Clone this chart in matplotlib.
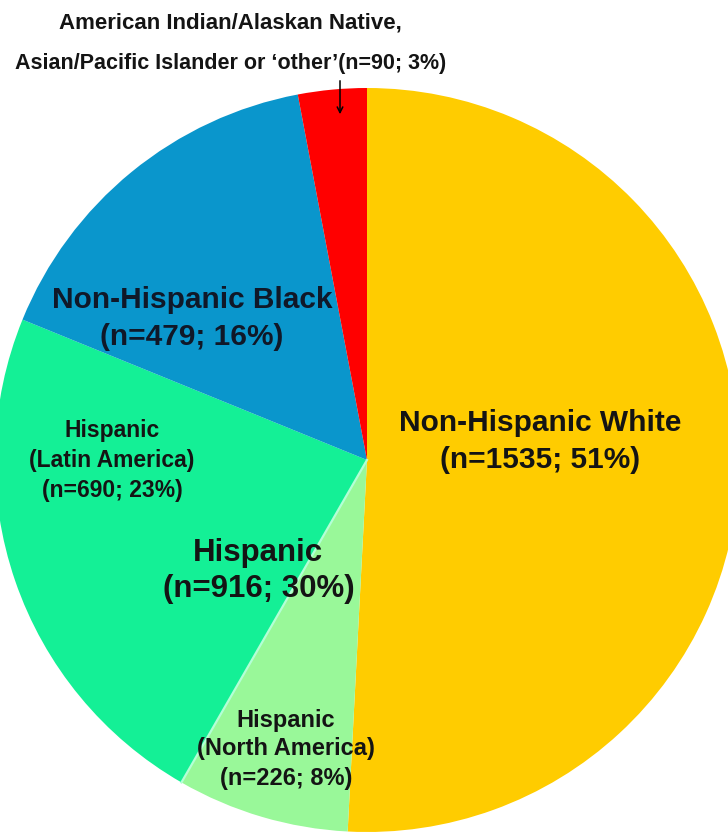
import numpy as np
import matplotlib
matplotlib.use("Agg")
from matplotlib import pyplot as plt

# slice data (clockwise from 12 o'clock)
groups = ["Non-Hispanic White", "Hispanic (North America)", "Hispanic (Latin America)",
          "Non-Hispanic Black", "Other"]
counts = [1535, 226, 690, 479, 90]
colors = ["#FFCC00", "#99F899", "#14F096", "#0A96CC", "#FF0000"]

FONT = ["Liberation Sans", "DejaVu Sans"]

fig = plt.figure(figsize=(7.28, 8.33), dpi=100)
ax = fig.add_axes([0, 0, 1, 1])

# y axis is inverted below, so counterclock=True draws clockwise on screen
cx, cy, r = 367, 460, 372
wedges, _ = ax.pie(counts, colors=colors, startangle=-90, counterclock=True,
                   center=(cx, cy), radius=r,
                   wedgeprops=dict(linewidth=0, antialiased=True))
ax.set_xlim(0, 728)
ax.set_ylim(833, 0)
ax.set_aspect("equal")
ax.axis("off")

# thin light line between the two hispanic slices
t = np.deg2rad(wedges[1].theta2)
ax.plot([cx, cx + r * np.cos(t)], [cy, cy + r * np.sin(t)], color="#B4FFD6", lw=1.6)

txt = "#141414"
ax.text(230, 23, "American Indian/Alaskan Native,", ha="center", va="center",
        fontsize=16, fontweight="bold", family=FONT, color=txt)
ax.text(231, 63, "Asian/Pacific Islander or \u2018other\u2019(n=90; 3%)", ha="center", va="center",
        fontsize=15.5, fontweight="bold", family=FONT, color=txt)
ax.annotate("", xy=(340, 117), xytext=(340, 78),
            arrowprops=dict(arrowstyle="->", color="black", lw=1.1))

ax.text(192, 300, "Non-Hispanic Black", ha="center", va="center",
        fontsize=21.5, fontweight="bold", family=FONT, color="#101828")
ax.text(192, 337, "(n=479; 16%)", ha="center", va="center",
        fontsize=21.5, fontweight="bold", family=FONT, color="#101828")

ax.text(540, 423, "Non-Hispanic White", ha="center", va="center",
        fontsize=21.5, fontweight="bold", family=FONT, color=txt)
ax.text(540, 460, "(n=1535; 51%)", ha="center", va="center",
        fontsize=21.5, fontweight="bold", family=FONT, color=txt)

ax.text(258, 553, "Hispanic", ha="center", va="center",
        fontsize=22.5, fontweight="bold", family=FONT, color=txt)
ax.text(259, 589, "(n=916; 30%)", ha="center", va="center",
        fontsize=22.5, fontweight="bold", family=FONT, color=txt)

for i, s in enumerate(["Hispanic", "(Latin America)", "(n=690; 23%)"]):
    ax.text(112, 430 + i * 30, s, ha="center", va="center",
            fontsize=16.5, fontweight="bold", family=FONT, color=txt)

for i, s in enumerate(["Hispanic", "(North America)", "(n=226; 8%)"]):
    ax.text(286, 720 + i * 29, s, ha="center", va="center",
            fontsize=17, fontweight="bold", family=FONT, color=txt)

fig.savefig("out.png", dpi=100, facecolor="white")
